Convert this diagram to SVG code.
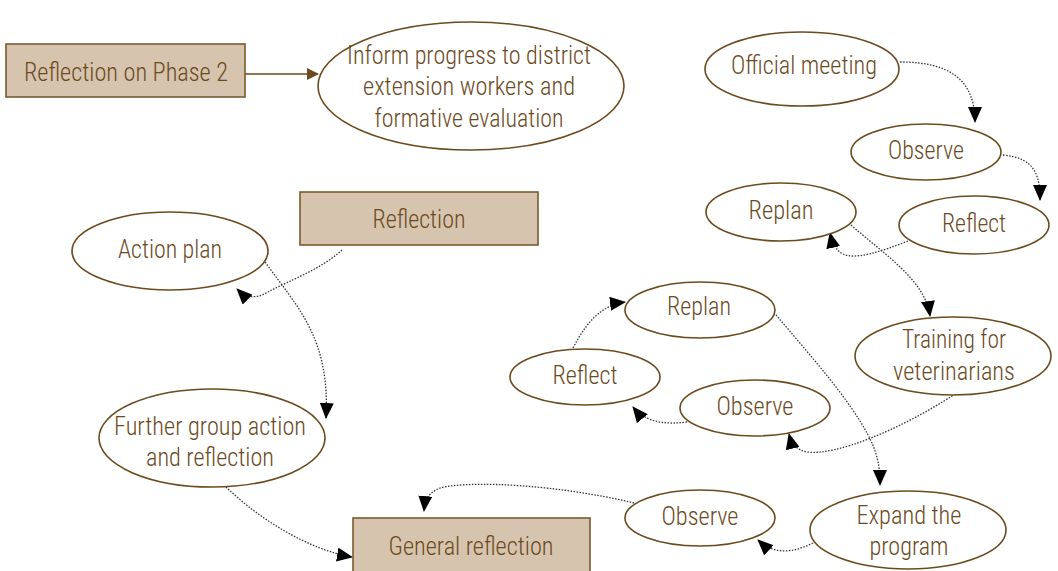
<svg xmlns="http://www.w3.org/2000/svg" width="1058" height="571" viewBox="0 0 1058 571">
<defs>
<style>
.box{fill:#d6c4ae;stroke:#7a5a2e;stroke-width:1.6}
.ell{fill:#fff;stroke:#6b4a1e;stroke-width:1.6}
text{font-family:"Roboto Condensed","Liberation Sans Narrow","Liberation Sans",Arial,sans-serif;font-weight:300;font-size:25px;fill:#6b4a1e;text-anchor:middle}
.dot{fill:none;stroke:#333;stroke-width:1.3;stroke-dasharray:1.5 1.5;marker-end:url(#ah)}
</style>
<marker id="ah" viewBox="0 0 16 14" refX="15" refY="7" markerWidth="16" markerHeight="14" markerUnits="userSpaceOnUse" orient="auto"><path d="M0,0 L16,7 L0,14 Z" fill="#000"/></marker>
<marker id="ab" viewBox="0 0 12 12" refX="11" refY="6" markerWidth="12" markerHeight="13" markerUnits="userSpaceOnUse" orient="auto"><path d="M0,0 L12,6 L0,12 Z" fill="#6b4a1e"/></marker>
</defs>
<rect width="1058" height="571" fill="#fff"/>
<g id="connectors">
<path d="M245,74 L318,74" fill="none" stroke="#6b4a1e" stroke-width="1.6" marker-end="url(#ab)"/>
<path class="dot" d="M900,62 C950,62 975,80 975,122"/>
<path class="dot" d="M1003,155 C1035,158 1040,175 1040,200"/>
<path class="dot" d="M908,241 C880,252 855,260 843,254 C835,250 832,242 830,233"/>
<path class="dot" d="M851,225 C885,255 925,280 930,316"/>
<path class="dot" d="M955,394 C900,430 835,456 807,452 C796,450 791,442 789,434"/>
<path class="dot" d="M776,315 C810,355 850,400 868,435 C877,452 880,465 880,485"/>
<path class="dot" d="M687,422 C665,425 645,422 633,407"/>
<path class="dot" d="M573,348 C585,325 600,305 625,302"/>
<path class="dot" d="M813,543 C795,552 775,556 758,540"/>
<path class="dot" d="M634,503 C560,485 470,480 440,488 C428,493 425,500 424,511"/>
<path class="dot" d="M226,487 C260,520 310,550 352,557"/>
<path class="dot" d="M342,250 C320,270 290,280 268,292 C255,300 245,297 237,289"/>
<path class="dot" d="M265,262 C300,310 330,340 326,418"/>
</g>
<g id="n1"><rect class="box" x="6" y="44" width="239" height="53"/><text x="126" y="81" textLength="204" lengthAdjust="spacingAndGlyphs">Reflection on Phase 2</text></g>
<g id="n2"><ellipse class="ell" cx="471" cy="86" rx="153" ry="64"/><text x="469" y="64" textLength="244" lengthAdjust="spacingAndGlyphs">Inform progress to district</text><text x="469" y="95" textLength="212" lengthAdjust="spacingAndGlyphs">extension workers and</text><text x="469" y="127" textLength="189" lengthAdjust="spacingAndGlyphs">formative evaluation</text></g>
<g id="n3"><ellipse class="ell" cx="802" cy="69" rx="97" ry="37"/><text x="804" y="74" textLength="146" lengthAdjust="spacingAndGlyphs">Official meeting</text></g>
<g id="n4"><ellipse class="ell" cx="926" cy="152" rx="75" ry="28"/><text x="926" y="159" textLength="76" lengthAdjust="spacingAndGlyphs">Observe</text></g>
<g id="n5"><ellipse class="ell" cx="974" cy="225" rx="75" ry="29"/><text x="974" y="232" textLength="64" lengthAdjust="spacingAndGlyphs">Reflect</text></g>
<g id="n6"><ellipse class="ell" cx="781" cy="212" rx="75" ry="29"/><text x="781" y="219" textLength="65" lengthAdjust="spacingAndGlyphs">Replan</text></g>
<g id="n7"><ellipse class="ell" cx="953" cy="356" rx="98" ry="39"/><text x="954" y="348" textLength="104" lengthAdjust="spacingAndGlyphs">Training for</text><text x="954" y="380" textLength="122" lengthAdjust="spacingAndGlyphs">veterinarians</text></g>
<g id="n8"><ellipse class="ell" cx="700" cy="310" rx="75" ry="28"/><text x="699" y="315" textLength="64" lengthAdjust="spacingAndGlyphs">Replan</text></g>
<g id="n9"><ellipse class="ell" cx="585" cy="377" rx="75" ry="28"/><text x="585" y="384" textLength="65" lengthAdjust="spacingAndGlyphs">Reflect</text></g>
<g id="n10"><ellipse class="ell" cx="755" cy="408" rx="75" ry="28"/><text x="755" y="415" textLength="77" lengthAdjust="spacingAndGlyphs">Observe</text></g>
<g id="n11"><ellipse class="ell" cx="170" cy="251" rx="98" ry="39"/><text x="170" y="258" textLength="104" lengthAdjust="spacingAndGlyphs">Action plan</text></g>
<g id="n12"><rect class="box" x="300" y="192" width="238" height="53"/><text x="419" y="228" textLength="93" lengthAdjust="spacingAndGlyphs">Reflection</text></g>
<g id="n13"><ellipse class="ell" cx="212" cy="438" rx="113" ry="49"/><text x="210" y="435" textLength="192" lengthAdjust="spacingAndGlyphs">Further group action</text><text x="210" y="466" textLength="128" lengthAdjust="spacingAndGlyphs">and reflection</text></g>
<g id="n14"><rect class="box" x="353" y="518" width="237" height="60"/><text x="471" y="555" textLength="165" lengthAdjust="spacingAndGlyphs">General reflection</text></g>
<g id="n15"><ellipse class="ell" cx="700" cy="518" rx="75" ry="28"/><text x="700" y="525" textLength="77" lengthAdjust="spacingAndGlyphs">Observe</text></g>
<g id="n16"><ellipse class="ell" cx="908" cy="530" rx="98" ry="39"/><text x="909" y="524" textLength="105" lengthAdjust="spacingAndGlyphs">Expand the</text><text x="909" y="555" textLength="79" lengthAdjust="spacingAndGlyphs">program</text></g>
</svg>
